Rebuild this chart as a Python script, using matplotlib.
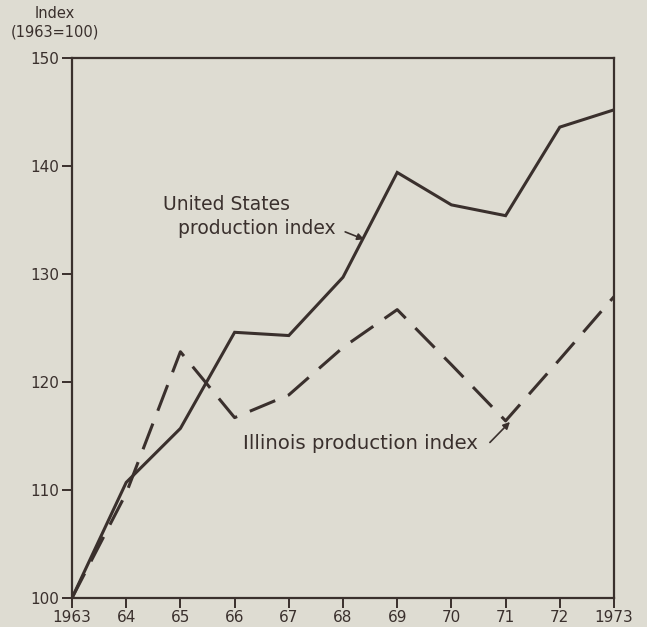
import matplotlib.pyplot as plt

years = [1963, 1964, 1965, 1966, 1967, 1968, 1969, 1970, 1971, 1972, 1973]
us_index = [100, 110.7, 115.7, 124.6, 124.3, 129.7, 139.4, 136.4, 135.4, 143.6, 145.2]
il_index = [100, 109.7, 122.8, 116.7, 118.8, 123.2, 126.7, 121.6, 116.4, 122.1, 127.9]
xtick_labels = ['1963', '64', '65', '66', '67', '68', '69', '70', '71', '72', '1973']
yticks = [100, 110, 120, 130, 140, 150]

bg = '#dedcd2'
ink = '#3a302d'

plt.rcParams['font.family'] = ['DejaVu Sans']

fig = plt.figure(figsize=(6.47, 6.27), dpi=100, facecolor=bg)
ax = fig.add_axes([0.1113, 0.0463, 0.8377, 0.8612], facecolor=bg)

ax.plot(years, us_index, color=ink, lw=2.2, solid_joinstyle='miter')
ax.plot(years, il_index, color=ink, lw=2.2, dashes=(9, 4.5))

ax.set_xlim(1963, 1973)
ax.set_ylim(100, 150)
ax.set_xticks(years)
ax.set_xticklabels(xtick_labels)
ax.set_yticks(yticks)

for s in ax.spines.values():
    s.set_color(ink)
    s.set_linewidth(1.6)

ax.tick_params(axis='both', colors=ink, labelcolor=ink, labelsize=11,
               length=7, width=1.4, direction='out', pad=2)

fig.text(0.085, 0.99, 'Index\n(1963=100)', ha='center', va='top',
         fontsize=10.5, color=ink, linespacing=1.25)

# labels
ax.text(1964.68, 136.4, 'United States', ha='left', va='center',
        fontsize=13.5, color=ink)
ax.text(1964.96, 134.2, 'production index', ha='left', va='center',
        fontsize=13.5, color=ink)
ax.annotate('', xy=(1968.39, 133.2), xytext=(1968.04, 133.9),
            arrowprops=dict(arrowstyle='-|>', color=ink, lw=1.2,
                            shrinkA=0, shrinkB=0, mutation_scale=10))

ax.text(1966.15, 114.3, 'Illinois production index', ha='left', va='center',
        fontsize=14.2, color=ink)
ax.annotate('', xy=(1971.08, 116.3), xytext=(1970.71, 114.4),
            arrowprops=dict(arrowstyle='-|>', color=ink, lw=1.2,
                            shrinkA=0, shrinkB=0, mutation_scale=10))

fig.savefig('out.png', dpi=100, facecolor=bg)
